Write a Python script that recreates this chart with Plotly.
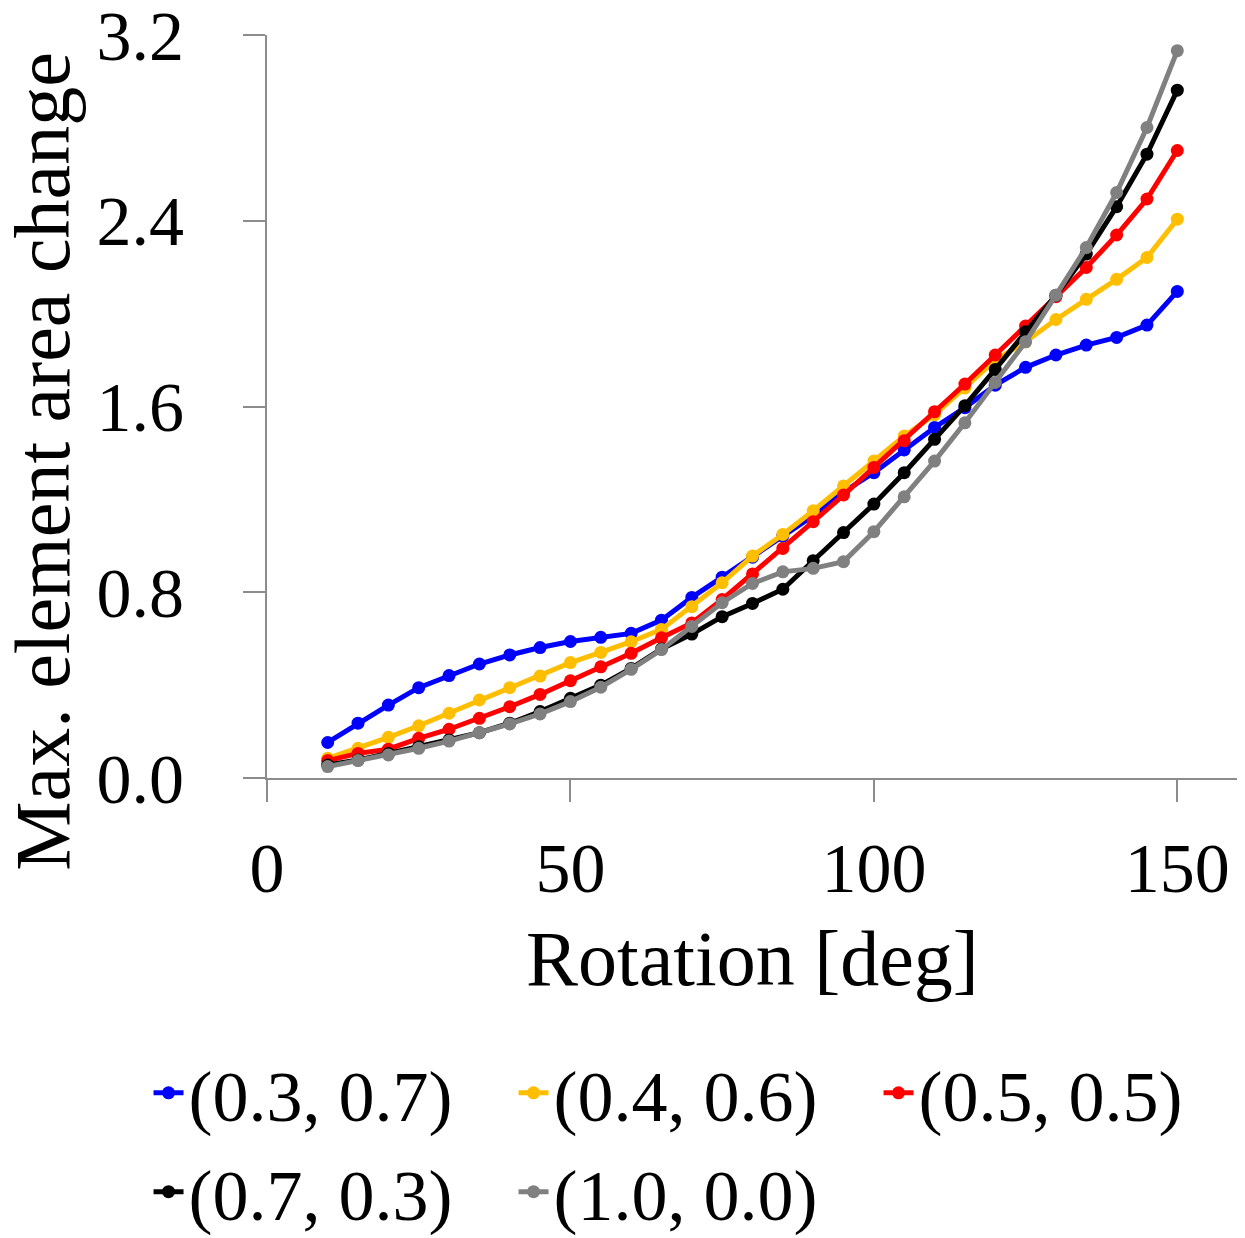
import plotly.graph_objects as go

rotation = [10, 15, 20, 25, 30, 35, 40, 45, 50, 55, 60, 65, 70, 75, 80, 85, 90, 95,
            100, 105, 110, 115, 120, 125, 130, 135, 140, 145, 150]

s_03_07 = [0.153, 0.236, 0.314, 0.389, 0.441, 0.491, 0.530, 0.562, 0.588, 0.606, 0.623, 0.680,
           0.778, 0.865, 0.951, 1.042, 1.130, 1.232, 1.315, 1.413, 1.510, 1.595, 1.692, 1.769,
           1.822, 1.865, 1.898, 1.951, 2.096]
s_04_06 = [0.085, 0.128, 0.175, 0.225, 0.279, 0.336, 0.389, 0.439, 0.497, 0.541, 0.587, 0.640,
           0.738, 0.841, 0.956, 1.049, 1.151, 1.258, 1.365, 1.473, 1.565, 1.680, 1.800, 1.879,
           1.975, 2.062, 2.148, 2.242, 2.407]
s_05_05 = [0.075, 0.106, 0.124, 0.171, 0.210, 0.257, 0.307, 0.360, 0.419, 0.479, 0.537, 0.604,
           0.668, 0.769, 0.879, 0.989, 1.104, 1.219, 1.338, 1.453, 1.578, 1.697, 1.822, 1.947,
           2.073, 2.199, 2.339, 2.494, 2.703]
s_07_03 = [0.056, 0.078, 0.106, 0.135, 0.164, 0.195, 0.236, 0.286, 0.343, 0.400, 0.472, 0.556,
           0.620, 0.695, 0.752, 0.813, 0.936, 1.057, 1.180, 1.315, 1.459, 1.604, 1.760, 1.922,
           2.080, 2.257, 2.461, 2.687, 2.963]
s_10_00 = [0.049, 0.075, 0.099, 0.128, 0.159, 0.195, 0.233, 0.276, 0.329, 0.391, 0.468, 0.553,
           0.653, 0.755, 0.838, 0.888, 0.903, 0.932, 1.061, 1.211, 1.365, 1.530, 1.704, 1.879,
           2.080, 2.285, 2.522, 2.802, 3.133]

series_names = ["(0.3, 0.7)", "(0.4, 0.6)", "(0.5, 0.5)", "(0.7, 0.3)", "(1.0, 0.0)"]
series_values = [s_03_07, s_04_06, s_05_05, s_07_03, s_10_00]
series_colors = ["#0000FF", "#FFBF00", "#FF0000", "#000000", "#808080"]
series_legend = ["legend", "legend", "legend", "legend2", "legend2"]

x_ticks = [0, 50, 100, 150]
y_ticks = [0.0, 0.8, 1.6, 2.4, 3.2]
y_tick_labels = ["0.0", "0.8", "1.6", "2.4", "3.2"]

FONT = "Liberation Serif"
TICK_FS = 70
TITLE_FS = 78
LEG_FS = 72
AXC = "#8c8c8c"

fig = go.Figure()
for name, vals, col, lg in zip(series_names, series_values, series_colors, series_legend):
    fig.add_trace(go.Scatter(
        x=rotation, y=vals, name=name, mode="lines+markers",
        line=dict(color=col, width=5),
        marker=dict(color=col, size=13),
        legend=lg,
    ))

leg_common = dict(
    orientation="h", xanchor="left", yanchor="middle",
    font=dict(family=FONT, size=LEG_FS, color="black"),
    entrywidth=320, entrywidthmode="pixels",
    bgcolor="rgba(0,0,0,0)",
)

# page body has an 8px margin, so the figure is sized and placed to compensate
fig.update_layout(
    width=1237, height=1230,
    margin=dict(l=259, r=7, t=27, b=460, autoexpand=False),
    plot_bgcolor="white", paper_bgcolor="white",
    font=dict(family=FONT, size=TICK_FS, color="black"),
    showlegend=True,
    legend=dict(x=-0.122, y=-0.424, **leg_common),
    legend2=dict(x=-0.122, y=-0.557, **leg_common),
    xaxis=dict(
        range=[0, 160], tickvals=x_ticks, ticktext=[str(v) for v in x_ticks],
        showgrid=False, zeroline=False, showline=True, linecolor=AXC, linewidth=2,
        ticks="outside", ticklen=22, tickwidth=2, tickcolor=AXC,
        ticklabelstandoff=6, automargin=False, ticklabeloverflow="allow",
        tickfont=dict(family=FONT, size=TICK_FS, color="black"),
    ),
    yaxis=dict(
        range=[0, 3.2005], tickvals=y_ticks, ticktext=y_tick_labels,
        showgrid=False, zeroline=False, showline=True, linecolor=AXC, linewidth=2,
        ticks="outside", ticklen=22, tickwidth=2, tickcolor=AXC,
        ticklabelstandoff=45, automargin=False, ticklabeloverflow="allow",
        tickfont=dict(family=FONT, size=TICK_FS, color="black"),
    ),
    annotations=[
        dict(text="Rotation [deg]", xref="paper", yref="paper", x=0.5, y=-0.243,
             xanchor="center", yanchor="middle", showarrow=False,
             font=dict(family=FONT, size=TITLE_FS, color="black")),
        dict(text="Max. element area change", xref="paper", yref="paper", x=-0.232, y=0.4266,
             xanchor="center", yanchor="middle", showarrow=False, textangle=-90,
             font=dict(family=FONT, size=TITLE_FS, color="black")),
    ],
)

fig.write_html("out.html")
